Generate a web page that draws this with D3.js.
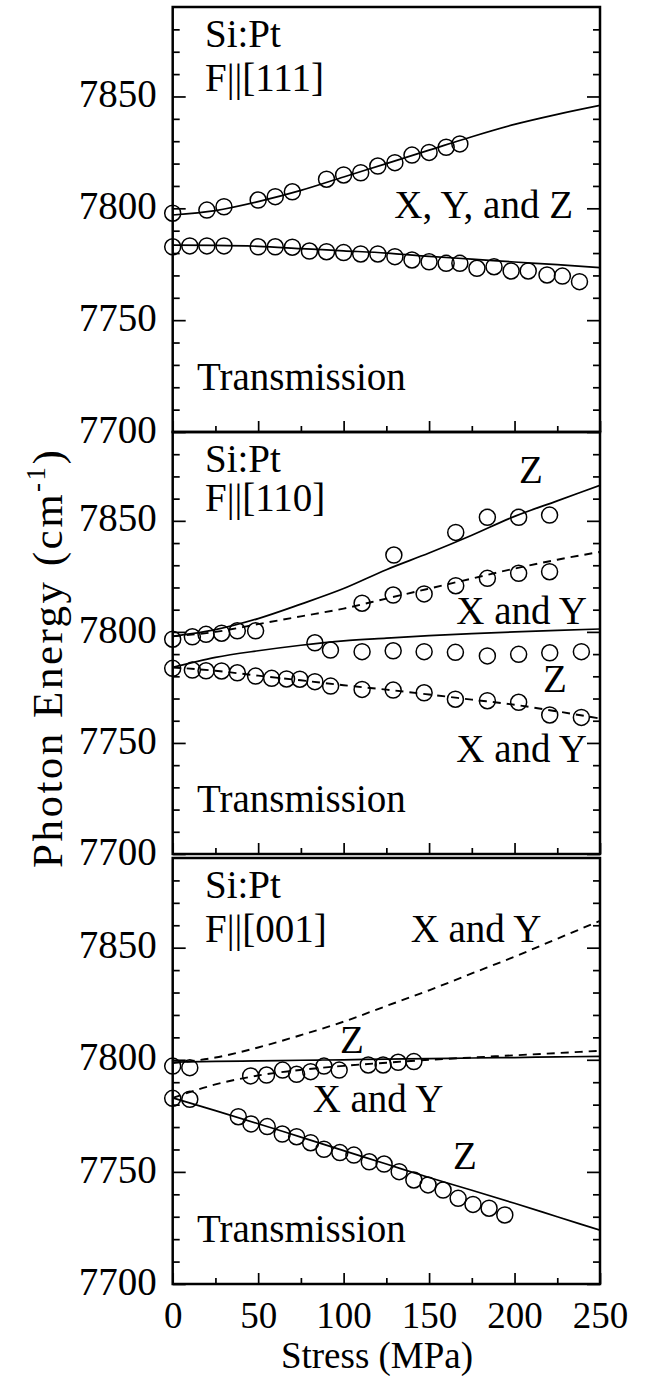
<!DOCTYPE html>
<html><head><meta charset="utf-8">
<script src="https://cdn.jsdelivr.net/npm/d3@7"></script>
<style>
body{margin:0;background:#fff}
svg{display:block;background:#fff}
text{font-family:"Liberation Serif","Tinos","Times New Roman","Times","Nimbus Roman","FreeSerif","DejaVu Serif","Noto Serif",serif;fill:#000}
</style>
</head><body>
<svg id="c" width="646" height="1376"></svg>
<script>
// ---------- tick labels ----------
const xTickLabels = [0, 50, 100, 150, 200, 250];
const xMinorTicks = [25, 75, 125, 175, 225];
const yTickLabels = [7700, 7750, 7800, 7850];
const yMinorTicks = [7710, 7720, 7730, 7740, 7760, 7770, 7780, 7790, 7810, 7820, 7830, 7840, 7860, 7870, 7880];
const fitStress = [0, 25, 50, 75, 100, 125, 150, 175, 200, 225, 250];

// ---------- F||[111] ----------
const p111UpperStress = [0, 20, 30, 50, 60, 70, 90, 100, 110, 120, 130, 140, 150, 160, 168];
const p111UpperEnergy = [7797.8, 7799.2, 7800.7, 7803.7, 7805.2, 7807.4, 7813.0, 7814.9, 7815.9, 7818.9, 7820.4, 7823.8, 7825.0, 7827.3, 7828.8];
const p111LowerStress = [0, 10, 20, 30, 50, 60, 70, 80, 90, 100, 110, 120, 130, 140, 150, 160, 168, 178, 188, 198, 208, 219, 228, 238];
const p111LowerEnergy = [7782.8, 7783.2, 7783.2, 7783.2, 7782.8, 7782.8, 7782.6, 7780.9, 7780.6, 7780.2, 7779.6, 7779.6, 7778.4, 7776.9, 7776.1, 7775.4, 7775.4, 7773.2, 7773.9, 7772.0, 7772.0, 7770.2, 7769.7, 7767.2];
const p111FitUpper = [7797, 7799, 7803, 7808, 7814, 7820, 7826, 7832, 7837.5, 7842, 7846];
const p111FitLower = [7783.5, 7783.4, 7783, 7782, 7781, 7780, 7778.5, 7777.3, 7776, 7774.8, 7773.5];

// ---------- F||[110] ----------
const p110XYUpperStress = [0, 11.5, 19.5, 28.6, 37.8, 48.5, 110.8, 129, 147.1, 165.6, 184.1, 202.4, 220.5];
const p110XYUpperEnergy = [7796.7, 7797.8, 7798.9, 7799.4, 7800.5, 7800.5, 7812.9, 7816.6, 7817.1, 7820.8, 7824.1, 7826.4, 7827.1];
const p110ZUpperStress = [129.4, 165.6, 184.1, 202.4, 220.5];
const p110ZUpperEnergy = [7834.6, 7844.8, 7851.6, 7851.6, 7852.6];
const p110ZLowerStress = [83.2, 92.3, 110.8, 129, 147.1, 165.4, 184.1, 202.4, 220.6, 239.1];
const p110ZLowerEnergy = [7795.1, 7791.8, 7791.1, 7791.5, 7791.1, 7790.8, 7789.2, 7789.9, 7790.6, 7791.1];
const p110XYLowerStress = [0, 11.5, 19.5, 28.6, 37.8, 48.5, 57.9, 66.6, 74.4, 83.2, 92.4, 110.8, 129, 147.1, 165.4, 184.1, 202.4, 220.6, 239.1];
const p110XYLowerEnergy = [7783.6, 7782.8, 7782.5, 7782.4, 7781.6, 7780.1, 7779.1, 7778.8, 7778.7, 7777.6, 7775.6, 7774.1, 7773.8, 7772.6, 7769.7, 7769.0, 7768.3, 7762.6, 7761.5];
const p110FitZUpper = [7798, 7801, 7806, 7812.5, 7819.5, 7828, 7835.5, 7843.5, 7852, 7859, 7866];
const p110FitXYUpper = [7798, 7800, 7803.5, 7807, 7810.5, 7815, 7819.5, 7824, 7828.5, 7832.5, 7836];
const p110FitZLower = [7784, 7788.5, 7791.5, 7794, 7796, 7797.2, 7798.3, 7799.2, 7800, 7800.7, 7801.3];
const p110FitXYLower = [7784, 7782.5, 7780.3, 7778.2, 7776, 7774, 7771.8, 7769.5, 7767.2, 7764.2, 7761];

// ---------- F||[001] ----------
const p001UpperStress = [0, 10, 45.6, 54.9, 64.3, 72.5, 80.7, 88.5, 97.4, 114.4, 123.1, 131.9, 141.1];
const p001UpperEnergy = [7797.2, 7796.5, 7792.8, 7793.2, 7795.4, 7793.5, 7794.7, 7797.2, 7795.4, 7797.7, 7797.7, 7798.9, 7799.2];
const p001LowerStress = [0, 10, 38.4, 45.8, 55.3, 64.1, 72.5, 80.7, 88.5, 97.8, 106, 115, 123.7, 132.5, 141.1, 149.4, 158.2, 167, 175.7, 185.1, 194.3];
const p001LowerEnergy = [7782.8, 7782.4, 7774.6, 7771.4, 7770.2, 7766.9, 7765.7, 7763, 7760.1, 7758.6, 7757.5, 7754.5, 7753.5, 7750.1, 7746.4, 7744.2, 7741.9, 7738.2, 7735.5, 7733.8, 7730.8];
const p001FitZUpper = [7799, 7799.3, 7799.5, 7799.8, 7800, 7800.3, 7800.5, 7800.8, 7801, 7801.3, 7801.5];
const p001FitXYUpper = [7798.5, 7801, 7805.5, 7811, 7817, 7824, 7831, 7838.5, 7846, 7854, 7862];
const p001FitXYLower = [7783, 7789, 7793, 7795.5, 7797.3, 7798.7, 7800, 7801, 7802, 7803, 7804];
const p001FitZLower = [7783, 7777.3, 7771.5, 7765.5, 7759.5, 7753.5, 7747.5, 7741.8, 7736, 7730, 7724];

const FS = 39;     // in-panel labels and y tick labels
const FSX = 37;    // x tick labels
const FONT = '"Liberation Serif","Tinos","Times New Roman","Times","Nimbus Roman","FreeSerif","DejaVu Serif","Noto Serif",serif';
const svg = d3.select("#c");
const x0 = 172.7, x1 = 600;
const x = d3.scaleLinear().domain([0, 250]).range([x0, x1]);

const panels = [
  { top: 7, bottom: 432, title: "F||[111]", sub: 84,
    points: [[p111UpperStress, p111UpperEnergy], [p111LowerStress, p111LowerEnergy]],
    fits: [[p111FitUpper, false], [p111FitLower, false]],
    labels: [["X, Y, and Z", 573, 218, "end"], ["Transmission", 197, 390, "start"]] },
  { top: 432, bottom: 854, title: "F||[110]", sub: 79,
    points: [[p110XYUpperStress, p110XYUpperEnergy], [p110ZUpperStress, p110ZUpperEnergy],
             [p110ZLowerStress, p110ZLowerEnergy], [p110XYLowerStress, p110XYLowerEnergy]],
    fits: [[p110FitZUpper, false], [p110FitXYUpper, true], [p110FitZLower, false], [p110FitXYLower, true]],
    labels: [["Z", 531, 483, "middle"], ["X and Y", 587, 624, "end"], ["Z", 555, 692, "middle"],
             ["X and Y", 587, 762, "end"], ["Transmission", 197, 812, "start"]] },
  { top: 858, bottom: 1284, title: "F||[001]", sub: 84,
    points: [[p001UpperStress, p001UpperEnergy], [p001LowerStress, p001LowerEnergy]],
    fits: [[p001FitZUpper, false], [p001FitXYUpper, true], [p001FitXYLower, true], [p001FitZLower, false]],
    labels: [["X and Y", 476, 942, "middle"], ["Z", 352, 1053, "middle"], ["X and Y", 378, 1112, "middle"],
             ["Z", 465, 1169, "middle"], ["Transmission", 197, 1242, "start"]] }
];

const line = d3.line().curve(d3.curveMonotoneX).x(d => x(d[0]));

panels.forEach((p, i) => {
  const y = d3.scaleLinear().domain([7700, 7890]).range([p.bottom, p.top]);
  const g = svg.append("g");
  const cid = "clip" + i;
  svg.append("clipPath").attr("id", cid).append("rect")
    .attr("x", x0).attr("y", p.top).attr("width", x1 - x0).attr("height", p.bottom - p.top);

  const addAxis = (axis, tx, ty, fs) => {
    const a = g.append("g").attr("transform", `translate(${tx},${ty})`).call(axis);
    a.select(".domain").remove();
    a.attr("font-family", FONT).attr("font-size", fs || FS);
    a.selectAll("line").attr("stroke", "#000").attr("stroke-width", 1.7);
    a.selectAll("text").attr("fill", "#000").attr("font-family", FONT).attr("font-size", fs || FS);
    return a;
  };
  addAxis(d3.axisRight(y).tickValues(yTickLabels).tickSize(13).tickFormat(""), x0, 0);
  addAxis(d3.axisRight(y).tickValues(yMinorTicks).tickSize(7).tickFormat(""), x0, 0);
  addAxis(d3.axisLeft(y).tickValues(yTickLabels).tickSize(13).tickFormat(""), x1, 0);
  addAxis(d3.axisLeft(y).tickValues(yMinorTicks).tickSize(7).tickFormat(""), x1, 0);
  addAxis(d3.axisTop(x).tickValues(xTickLabels).tickSize(11).tickFormat(""), 0, p.bottom);
  addAxis(d3.axisTop(x).tickValues(xMinorTicks).tickSize(6).tickFormat(""), 0, p.bottom);

  const yl = addAxis(d3.axisLeft(y).tickValues(yTickLabels).tickFormat(d3.format("d")).tickSize(0).tickPadding(16), x0, 0);
  yl.selectAll("text").attr("dy", "0.26em");

  const ln = line.y(d => y(d[1]));
  p.fits.forEach(([vals, dashed]) => {
    g.append("path").datum(d3.zip(fitStress, vals)).attr("d", ln)
      .attr("clip-path", `url(#${cid})`)
      .attr("fill", "none").attr("stroke", "#000")
      .attr("stroke-width", dashed ? 1.9 : 1.7)
      .attr("stroke-dasharray", dashed ? "8,6" : null);
  });

  p.points.forEach(([s, e]) => {
    g.append("g").selectAll("circle").data(d3.zip(s, e)).join("circle")
      .attr("cx", d => x(d[0])).attr("cy", d => y(d[1])).attr("r", 8)
      .attr("fill", "none").attr("stroke", "#000").attr("stroke-width", 1.5);
  });

  g.append("rect").attr("x", x0).attr("y", p.top).attr("width", x1 - x0).attr("height", p.bottom - p.top)
    .attr("fill", "none").attr("stroke", "#000").attr("stroke-width", 2.5);

  g.append("text").attr("x", 205).attr("y", p.top + 40).attr("font-size", FS).text("Si:Pt");
  g.append("text").attr("x", 205).attr("y", p.top + p.sub).attr("font-size", FS).text(p.title);
  p.labels.forEach(([t, lx, ly, anc]) => {
    g.append("text").attr("x", lx).attr("y", ly).attr("text-anchor", anc).attr("font-size", FS).text(t);
  });

  if (i === 2) {
    addAxis(d3.axisBottom(x).tickValues(xTickLabels).tickFormat(d3.format("d")).tickSize(0).tickPadding(18), 0, p.bottom, FSX);
  }
});

svg.append("text").attr("x", 377).attr("y", 1368).attr("text-anchor", "middle")
  .attr("font-size", 37).text("Stress (MPa)");
const yt = svg.append("text").attr("transform", "translate(62,868) rotate(-90)")
  .attr("text-anchor", "start").attr("font-size", 43).attr("letter-spacing", 2.5);
yt.append("tspan").text("Photon Energy (cm");
yt.append("tspan").attr("font-size", 27).attr("dy", -17).text("-1");
yt.append("tspan").attr("dy", 17).text(")");
</script>
</body></html>
